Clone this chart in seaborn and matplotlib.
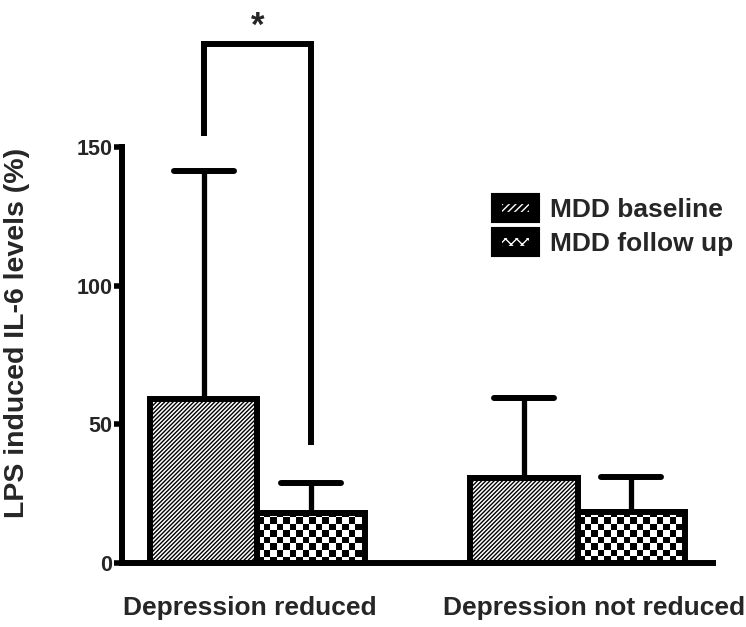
import numpy as np
import pandas as pd
import matplotlib
matplotlib.use("Agg")
import matplotlib.pyplot as plt
from matplotlib.patches import Patch
import seaborn as sns

# ---- data ----
categories = ["Depression reduced", "Depression not reduced"]
groups = ["MDD baseline", "MDD follow up"]
baseline_mean = [59, 30.5]
baseline_err = [82.5, 29]
followup_mean = [18, 18.3]
followup_err = [10.8, 12.7]
yticks = [0, 50, 100, 150]
sig_label = "*"

sns.set_theme(style="white")
plt.rcParams["font.family"] = ["Liberation Sans", "DejaVu Sans"]
plt.rcParams["font.weight"] = "bold"
plt.rcParams["hatch.linewidth"] = 1.0

df = pd.DataFrame({
    "category": categories * 2,
    "group": [groups[0]] * 2 + [groups[1]] * 2,
    "value": baseline_mean + followup_mean,
})
err_lookup = {(0, 0): baseline_err[0], (1, 0): baseline_err[1],
              (0, 1): followup_err[0], (1, 1): followup_err[1]}

fig = plt.figure(figsize=(7.46, 6.27), dpi=100)
ax = fig.add_axes([122 / 746, 64 / 627, 591 / 746, 416 / 627])

LW = 4.3
sns.barplot(data=df, x="category", y="value", hue="group", order=categories,
            hue_order=groups, width=0.67, gap=0, errorbar=None,
            palette=["white", "white"], edgecolor="black", linewidth=LW,
            legend=False, ax=ax, zorder=2)

xlim = (-0.423, 1.423)
ylim = (0, 150)
ax.set_xlim(*xlim)
ax.set_ylim(*ylim)

# pixel sizes in data units
px_x = (xlim[1] - xlim[0]) / 591
px_y = (ylim[1] - ylim[0]) / 416

centers = {}
for p in list(ax.patches):
    cx = p.get_x() + p.get_width() / 2
    cat = int(round(cx))
    hue = 0 if cx < cat else 1
    h = p.get_height()
    centers[(cat, hue)] = (cx, h, p.get_width())
    if hue == 0:
        p.set_hatch("////////")
    else:
        # checkerboard fill clipped to the bar
        p.set_facecolor("none")
        sq = 6.5
        sx, sy = sq * px_x, sq * px_y
        x0 = p.get_x()
        nx = int(np.ceil(p.get_width() / sx)) + 1
        ny = int(np.ceil(h / sy)) + 1
        board = (np.add.outer(np.arange(ny), np.arange(nx)) % 2).astype(float)
        im = ax.imshow(board, cmap="gray", vmin=0, vmax=1, interpolation="nearest",
                       extent=(x0, x0 + nx * sx, 0, ny * sy), origin="lower",
                       aspect="auto", zorder=1.5)
        im.set_clip_path(p)

ax.set_xlim(*xlim)
ax.set_ylim(*ylim)

# one-sided error bars
for key, (cx, h, w) in centers.items():
    top = h + err_lookup[key]
    ax.vlines(cx, h, top, color="black", lw=3.8, zorder=1)
    half = 30 * px_x
    ax.hlines(top, cx - half, cx + half, color="black", lw=LW, capstyle="round", zorder=3)

# significance bracket
xl = centers[(0, 0)][0]
xr = centers[(0, 1)][0]
ax.plot([xl, xl, xr, xr], [154, 187, 187, 42.5], color="black", lw=LW,
        solid_joinstyle="miter", solid_capstyle="butt", clip_on=False, zorder=3)
ax.text((xl + xr) / 2, 187.5, sig_label, ha="center", va="bottom", fontsize=25,
        fontweight="bold", clip_on=False)

# axes styling
for s in ["top", "right"]:
    ax.spines[s].set_visible(False)
for s in ["left", "bottom"]:
    ax.spines[s].set_linewidth(LW)
    ax.spines[s].set_color("black")
    ax.spines[s].set_capstyle("projecting")
ax.set_yticks(yticks)
ax.set_yticklabels([str(t) for t in yticks], fontsize=15.5, fontweight="bold")
ax.tick_params(axis="y", left=True, length=6, width=4, color="black", pad=1)
ax.tick_params(axis="x", bottom=False, length=0, labelbottom=False)
ax.set_xlabel("")

# category labels (slightly offset as in the original)
label_dx = [-5.4, 11.9]
for i, (cat, dx) in enumerate(zip(categories, label_dx)):
    ax.annotate(cat, xy=(i, 0), xycoords="data", xytext=(dx, -32.4),
                textcoords="offset points", ha="center", va="center",
                fontsize=19, fontweight="bold", annotation_clip=False)

ax.set_ylabel("LPS induced IL-6 levels (%)", fontsize=20.5, fontweight="bold")
ax.yaxis.set_label_coords(-0.156, 0.553)

h1 = (Patch(facecolor="black", edgecolor="white", hatch="/////", linewidth=0),
      Patch(facecolor="none", edgecolor="black", linewidth=8))
h2 = (Patch(facecolor="black", edgecolor="white", hatch="xxx", linewidth=0),
      Patch(facecolor="none", edgecolor="black", linewidth=8))
ax.legend([h1, h2], groups, loc="upper left", bbox_to_anchor=(496 / 746, 1 - 198 / 627),
          bbox_transform=fig.transFigure, frameon=False, borderpad=0, borderaxespad=0,
          handlelength=1.45, handleheight=0.75, handletextpad=0.6, labelspacing=0.36,
          prop={"size": 19, "weight": "bold"})

fig.savefig("out.png", dpi=100, facecolor="white")
